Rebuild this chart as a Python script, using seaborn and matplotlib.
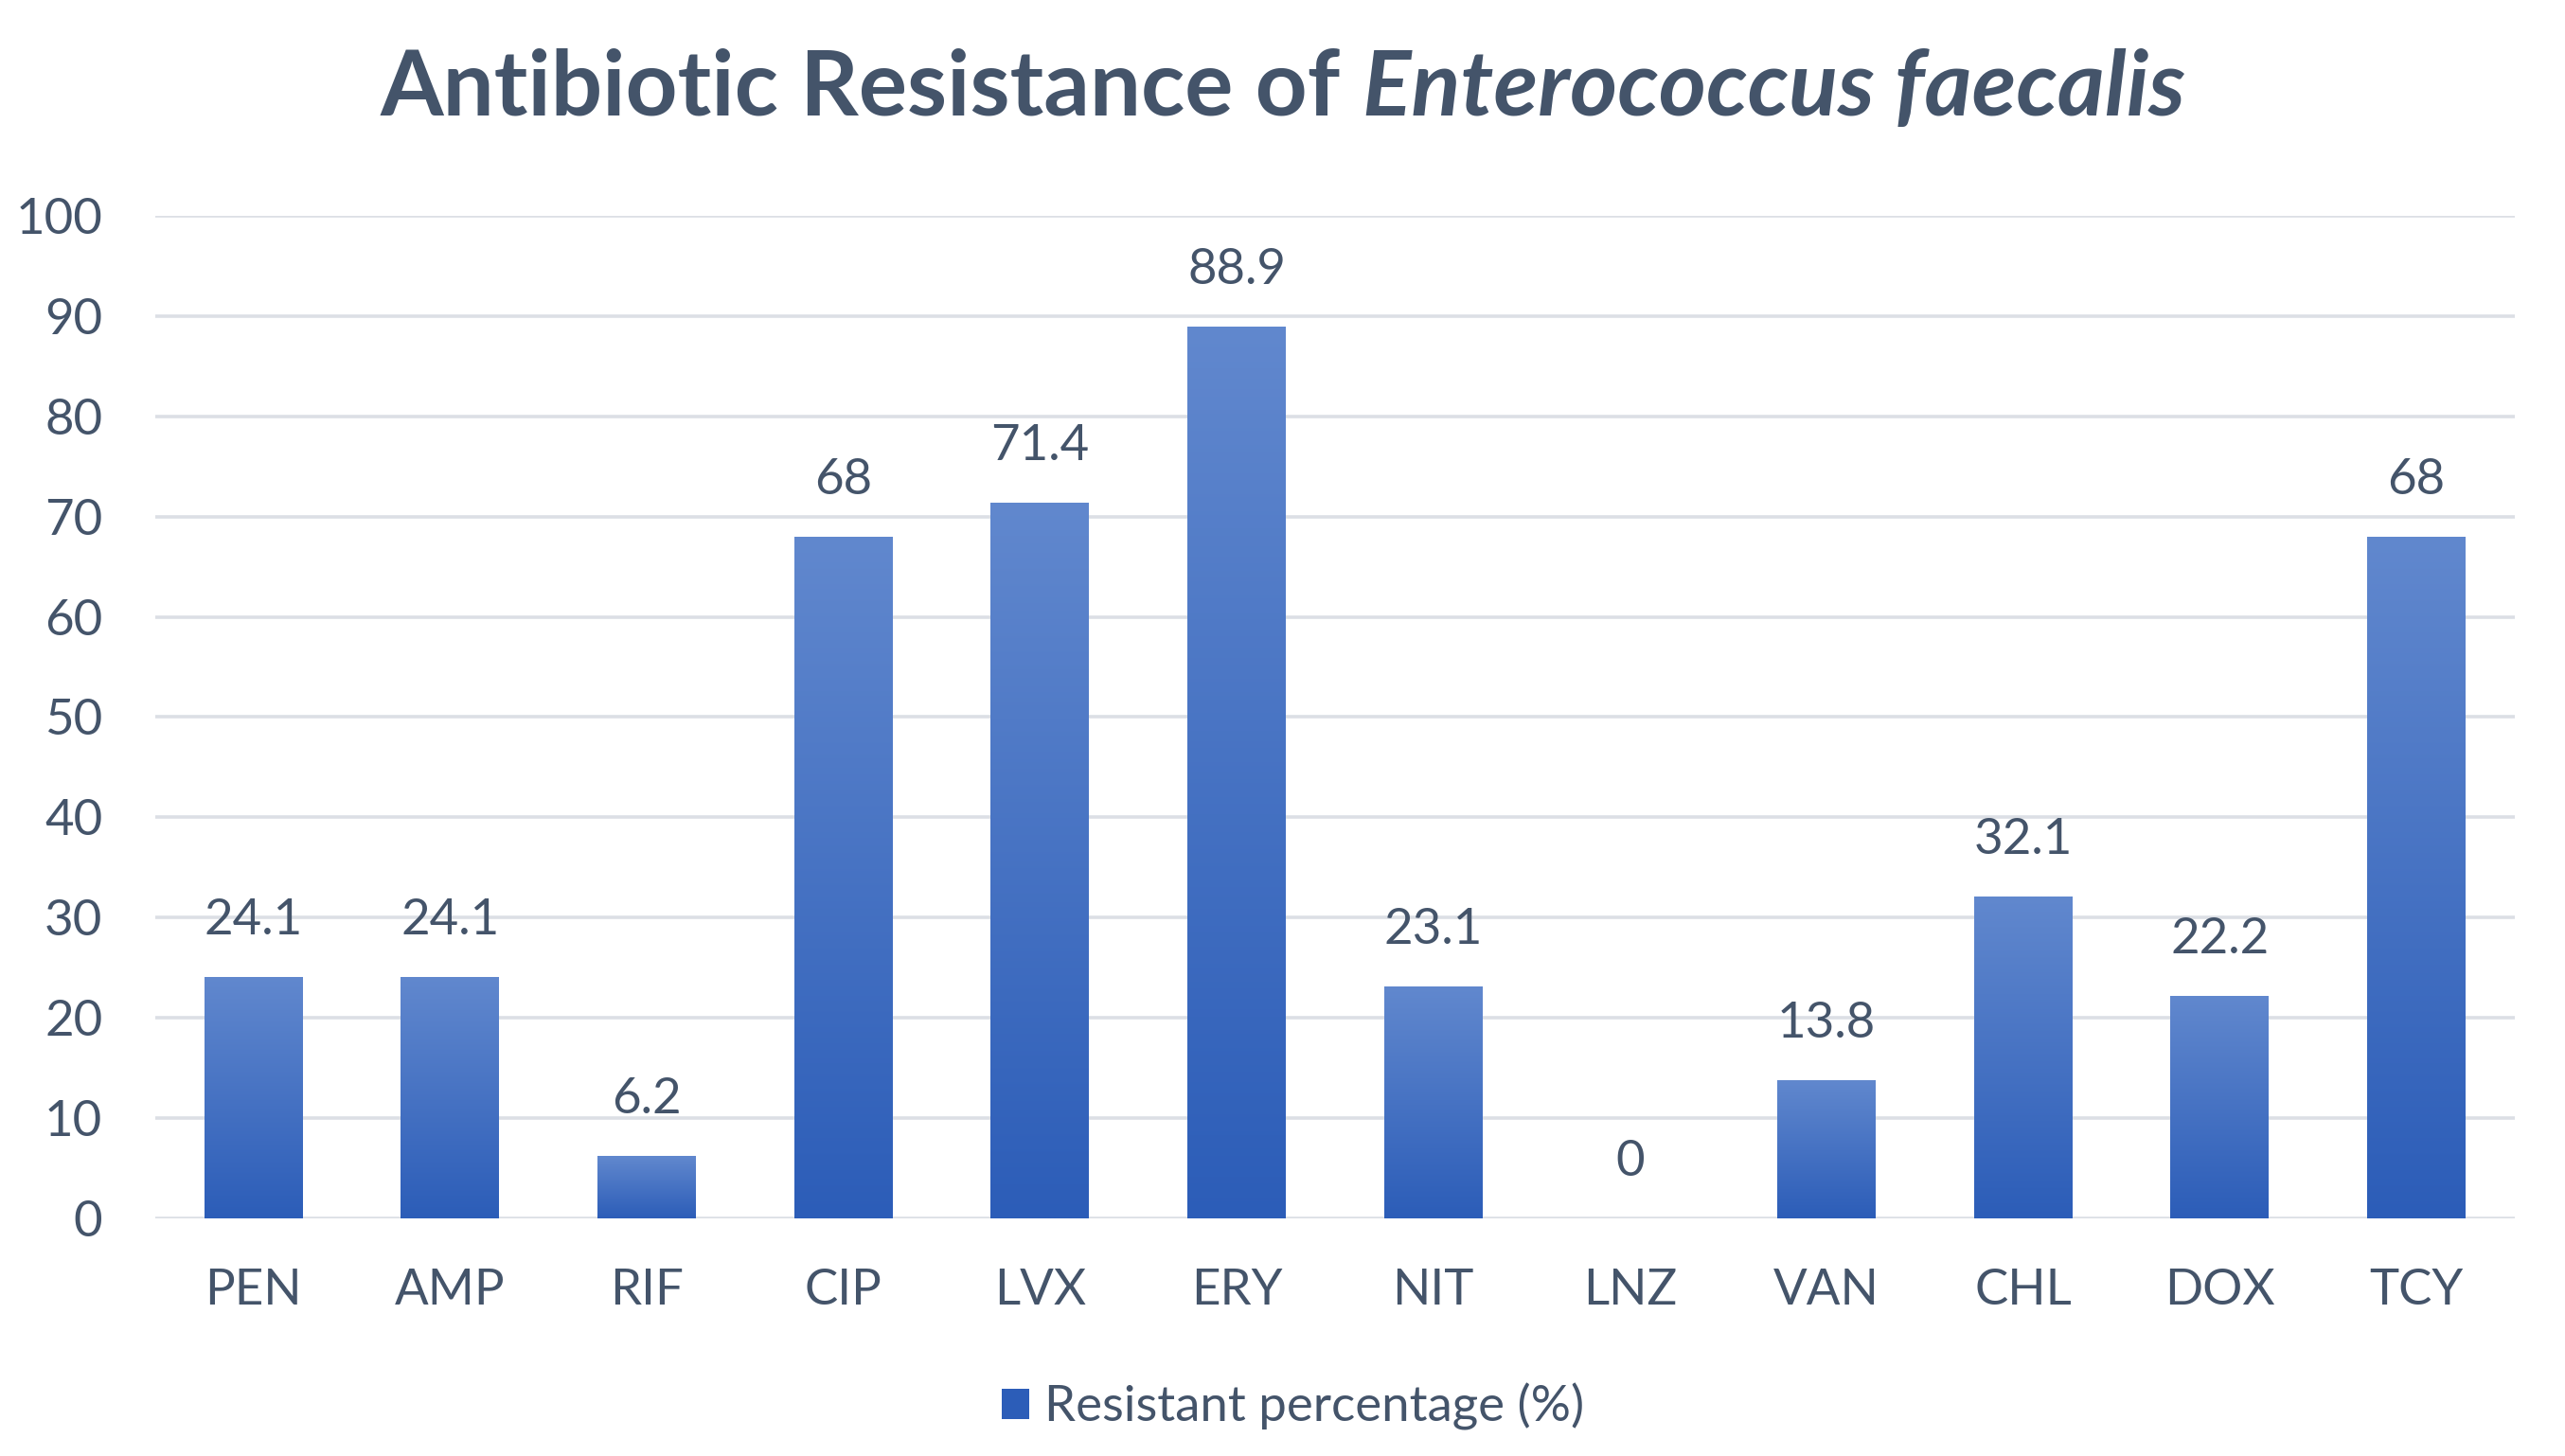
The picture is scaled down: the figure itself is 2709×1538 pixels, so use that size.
import numpy as np
import matplotlib
matplotlib.use("Agg")
import matplotlib.pyplot as plt
import seaborn as sns
from matplotlib.colors import LinearSegmentedColormap
from matplotlib.patches import Patch

categories = ["PEN", "AMP", "RIF", "CIP", "LVX", "ERY", "NIT", "LNZ", "VAN", "CHL", "DOX", "TCY"]
values = [24.1, 24.1, 6.2, 68, 71.4, 88.9, 23.1, 0, 13.8, 32.1, 22.2, 68]
value_labels = ["24.1", "24.1", "6.2", "68", "71.4", "88.9", "23.1", "0", "13.8", "32.1", "22.2", "68"]
yticks = list(range(0, 101, 10))
series_name = "Resistant percentage (%)"
title_plain = "Antibiotic Resistance of "
title_italic = "Enterococcus faecalis"

TEXT = "#44546A"
GRID = "#DCDFE5"
TOP = "#6188CE"
BOTTOM = "#2C5DB8"

sns.set_theme(style="white")
plt.rcParams["font.family"] = ["Lato", "DejaVu Sans"]

fig = plt.figure(figsize=(27.09, 15.38), dpi=100)
ax = fig.add_axes([0.0605, 0.1632, 0.9199, 0.6886])

sns.barplot(x=categories, y=values, color=BOTTOM, width=0.5, ax=ax, zorder=3)

cmap = LinearSegmentedColormap.from_list("g", [BOTTOM, TOP])
grad = np.linspace(0, 1, 256).reshape(-1, 1)
for p in list(ax.patches):
    x0, y0 = p.get_x(), p.get_y()
    w, h = p.get_width(), p.get_height()
    if h <= 0:
        p.set_visible(False)
        continue
    im = ax.imshow(grad, cmap=cmap, origin="lower", aspect="auto",
                   extent=[x0, x0 + w, y0, y0 + h], zorder=3)
    im.set_clip_path(p)
    p.set_facecolor("none")
    p.set_edgecolor("none")

for i, (v, lab) in enumerate(zip(values, value_labels)):
    ax.annotate(lab, xy=(i, v), xytext=(0, 43), textcoords="offset points",
                ha="center", va="center", fontsize=38, color=TEXT)

ax.set_xlim(-0.5, len(categories) - 0.5)
ax.set_ylim(0, 100)
ax.set_yticks(yticks)
ax.set_yticklabels([str(t) for t in yticks])
ax.yaxis.grid(True, color=GRID, linewidth=2.6, zorder=0)
ax.set_axisbelow(True)
for s in ax.spines.values():
    s.set_visible(False)
ax.tick_params(axis="y", length=0, pad=40, labelsize=38, labelcolor=TEXT)
ax.tick_params(axis="x", length=0, pad=38, labelsize=38, labelcolor=TEXT)
ax.set_xlabel("")
ax.set_ylabel("")

# title in two parts (plain + italic)
fig.canvas.draw()
r = fig.canvas.get_renderer()
t1 = fig.text(0, 0.921, title_plain, fontsize=69, fontweight="bold", color=TEXT,
              ha="left", va="baseline")
t2 = fig.text(0, 0.921, title_italic, fontsize=69, fontweight="bold", style="italic",
              color=TEXT, ha="left", va="baseline")
w1 = t1.get_window_extent(r).width / fig.bbox.width
w2 = t2.get_window_extent(r).width / fig.bbox.width
start = 0.5 - (w1 + w2) / 2
t1.set_x(start)
t2.set_x(start + w1)

handle = Patch(facecolor=BOTTOM, edgecolor="none")
fig.legend([handle], [series_name], loc="center", bbox_to_anchor=(0.504, 0.034),
           frameon=False, fontsize=38, labelcolor=TEXT, handlelength=0.55,
           handleheight=0.55, handletextpad=0.3)

fig.savefig("out.png", dpi=100, facecolor="white")
